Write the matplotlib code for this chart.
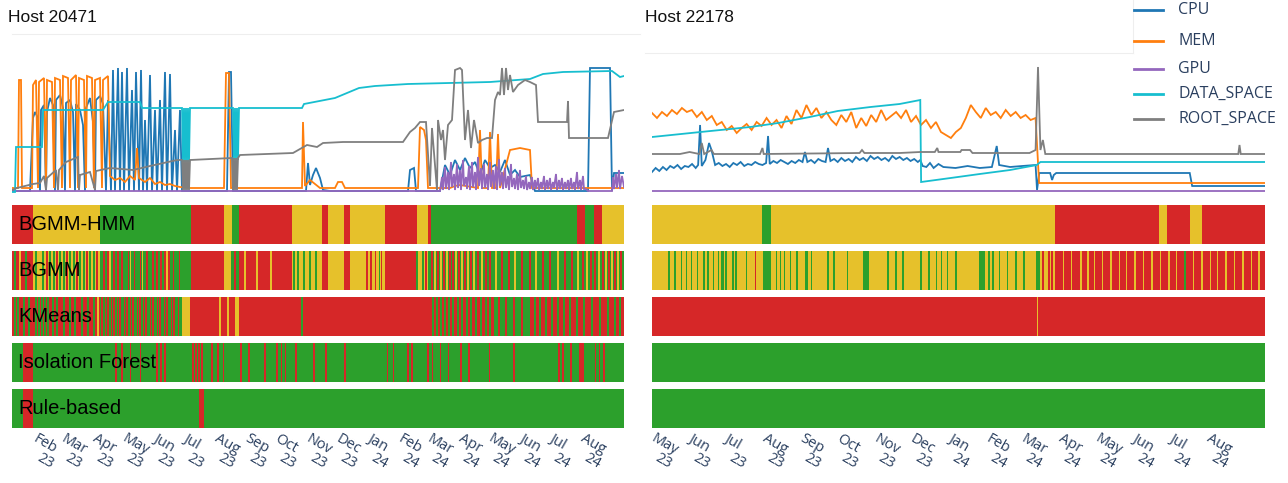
import numpy as np
import pandas as pd
import matplotlib
matplotlib.use("Agg")
import matplotlib.pyplot as plt
from matplotlib.lines import Line2D

# ---------------------------------------------------------------- data
# time is given as days since the first sample of each host
start_l = pd.Timestamp("2023-01-06")
span_l = 612
start_r = pd.Timestamp("2023-04-28")
span_r = 505
ticks_l = pd.date_range("2023-02-01", "2024-08-01", freq="MS")
ticks_r = pd.date_range("2023-05-01", "2024-08-01", freq="MS")

series_names = ["CPU", "MEM", "GPU", "DATA_SPACE", "ROOT_SPACE"]
models = ["BGMM-HMM", "BGMM", "KMeans", "Isolation Forest", "Rule-based"]

# ---- Host 20471 metrics (day, normalised value)
cpu_l = [(0, 1), (18, 1), (21, 74), (23, 80), (26, 74), (28, 1), (29, 82), (32, 87), (34, 1), (35, 80),
         (38, 94), (41, 87), (43, 1), (44, 92), (48, 97), (51, 84), (53, 1), (54, 89), (58, 92), (61, 80),
         (63, 1), (64, 88), (68, 82), (71, 67), (73, 1), (74, 84), (78, 94), (81, 70), (83, 1), (84, 92),
         (88, 96), (91, 88), (94, 1), (96, 92), (99, 1), (101, 122), (103, 1), (106, 124), (108, 1),
         (110, 120), (112, 1), (115, 124), (117, 1), (120, 102), (122, 1), (124, 120), (127, 1), (129, 122),
         (131, 1), (133, 72), (135, 1), (138, 117), (140, 1), (143, 82), (145, 1), (148, 92), (150, 1),
         (153, 120), (155, 1), (158, 118), (160, 1), (163, 62), (165, 1), (168, 82), (170, 1), (215, 1),
         (217, 120), (219, 120), (221, 1), (294, 1), (296, 29), (298, 7), (301, 17), (304, 24), (308, 14),
         (311, 2), (318, 1), (396, 1), (398, 22), (402, 24), (404, 1), (428, 1), (433, 27), (438, 17),
         (443, 32), (448, 22), (453, 34), (458, 24), (463, 30), (468, 17), (473, 32), (478, 24), (483, 27),
         (488, 20), (493, 32), (498, 17), (503, 22), (508, 15), (518, 17), (523, 1), (576, 1), (578, 124),
         (598, 124), (600, 1), (602, 19), (612, 19)]
mem_l = [(0, 4), (6, 4), (7, 112), (9, 112), (10, 4), (20, 4), (21, 107), (24, 112), (26, 4), (27, 110),
         (32, 114), (34, 4), (35, 112), (40, 110), (42, 4), (43, 114), (48, 112), (50, 4), (51, 116),
         (56, 114), (58, 4), (59, 112), (64, 117), (66, 4), (67, 114), (72, 112), (74, 4), (75, 116),
         (80, 114), (82, 4), (83, 112), (88, 114), (90, 4), (91, 112), (96, 116), (98, 16), (103, 12),
         (108, 14), (113, 10), (118, 16), (123, 12), (125, 44), (127, 14), (133, 10), (138, 14), (143, 8),
         (148, 10), (153, 7), (158, 8), (163, 6), (168, 5), (178, 4), (212, 4), (214, 119), (217, 119),
         (219, 4), (290, 4), (291, 70), (293, 6), (298, 12), (303, 8), (308, 4), (323, 4), (326, 10),
         (330, 10), (333, 4), (406, 4), (408, 65), (412, 62), (414, 52), (416, 4), (438, 4), (443, 6),
         (448, 7), (466, 4), (468, 62), (470, 4), (476, 4), (478, 60), (480, 4), (484, 4), (486, 58),
         (488, 4), (498, 42), (508, 44), (518, 42), (520, 4), (548, 4), (612, 4)]
gpu_l = [(0, 1), (428, 1), (430, 15), (431, 2), (433, 25), (434, 3), (436, 20), (437, 2), (439, 30),
         (440, 5), (442, 18), (443, 2), (445, 28), (446, 4), (448, 22), (449, 2), (451, 32), (452, 6),
         (454, 15), (455, 3), (457, 26), (458, 2), (460, 30), (461, 5), (463, 20), (464, 2), (466, 35),
         (467, 6), (469, 24), (470, 3), (472, 28), (473, 4), (475, 18), (476, 2), (478, 30), (479, 5),
         (481, 22), (482, 3), (484, 26), (485, 2), (487, 33), (488, 6), (490, 20), (491, 3), (493, 24),
         (494, 4), (496, 16), (497, 2), (499, 28), (500, 5), (502, 14), (503, 3), (505, 18), (506, 2),
         (508, 22), (509, 4), (511, 12), (512, 3), (514, 16), (515, 2), (517, 10), (518, 3), (520, 15),
         (521, 2), (523, 12), (524, 3), (526, 14), (527, 2), (529, 10), (530, 3), (532, 16), (533, 2),
         (535, 12), (536, 3), (538, 14), (539, 2), (541, 10), (542, 4), (544, 18), (545, 2), (547, 12),
         (548, 3), (550, 14), (551, 2), (553, 10), (554, 3), (556, 12), (557, 2), (559, 14), (560, 3),
         (562, 10), (563, 2), (565, 20), (566, 3), (568, 12), (569, 2), (571, 16), (572, 3), (574, 3),
         (576, 1), (600, 1), (601, 15), (602, 3), (604, 18), (605, 4), (607, 22), (608, 3), (610, 16),
         (612, 5)]
data_l = [(0, 0), (3, 0), (4, 45), (30, 45), (31, 82), (91, 82), (96, 90), (128, 90), (130, 84), (170, 84),
          (171, 30), (172, 84), (173, 30), (174, 84), (175, 30), (176, 84), (177, 30), (178, 84), (221, 84),
          (222, 32), (223, 84), (224, 32), (225, 84), (226, 32), (227, 84), (290, 84), (292, 88), (323, 94),
          (347, 104), (363, 106), (396, 108), (478, 110), (518, 113), (531, 118), (551, 120), (600, 121),
          (608, 115), (612, 116)]
root_l = [(0, 2), (5, 4), (21, 8), (28, 9), (32, 16), (34, 2), (35, 14), (44, 22), (46, 2), (47, 22),
          (54, 30), (66, 35), (67, 2), (68, 17), (78, 20), (83, 2), (84, 21), (98, 24), (121, 22), (138, 26),
          (165, 32), (170, 32), (171, 2), (172, 32), (173, 2), (174, 32), (175, 2), (176, 32), (177, 2),
          (178, 32), (220, 34), (221, 2), (222, 34), (223, 2), (224, 34), (225, 2), (226, 34), (228, 37),
          (281, 39), (295, 47), (305, 45), (311, 49), (331, 50), (391, 50), (398, 60), (403, 64), (408, 70),
          (414, 70), (418, 6), (420, 64), (425, 2), (426, 72), (429, 52), (431, 62), (433, 32), (436, 67),
          (440, 72), (443, 122), (448, 124), (450, 122), (453, 52), (456, 82), (459, 44), (462, 72),
          (466, 49), (470, 52), (475, 54), (480, 54), (483, 92), (486, 100), (488, 97), (490, 124),
          (492, 97), (494, 124), (496, 102), (498, 117), (501, 100), (506, 107), (513, 112), (518, 110),
          (524, 107), (526, 70), (555, 70), (556, 91), (557, 54), (596, 54), (602, 80), (612, 82)]

# ---- Host 22178 metrics
cpu_r = [(0, 20), (3, 24), (6, 21), (9, 25), (12, 22), (15, 26), (18, 24), (21, 27), (24, 23), (27, 26),
         (30, 25), (33, 28), (36, 24), (38, 27), (39.6, 67), (41, 26), (44, 32), (47, 49), (49, 42), (52, 27),
         (55, 29), (58, 26), (61, 28), (64, 25), (67, 29), (70, 27), (73, 30), (76, 26), (79, 28), (82, 27),
         (85, 30), (88, 28), (91, 27), (94, 29), (95.6, 56), (97, 28), (100, 31), (103, 29), (106, 32),
         (109, 30), (112, 28), (115, 31), (118, 29), (121, 32), (124, 30), (126, 40), (128, 30), (131, 32),
         (134, 29), (137, 33), (140, 31), (143, 30), (145, 44), (147, 31), (150, 33), (153, 30), (156, 34),
         (159, 31), (162, 33), (165, 30), (168, 35), (171, 32), (174, 34), (177, 31), (180, 36), (183, 33),
         (186, 35), (189, 32), (192, 34), (195, 31), (198, 36), (201, 33), (204, 35), (207, 32), (210, 34),
         (213, 31), (216, 33), (219, 30), (221, 32), (223, 26), (226, 25), (229, 29), (232, 24), (236, 28),
         (240, 25), (250, 24), (260, 26), (270, 24), (280, 25), (284, 46), (286, 27), (295, 25), (305, 26),
         (316, 27), (317.2, 2), (319, 19), (328, 19), (329.6, 12), (331, 17), (333, 19), (443, 19), (445, 6),
         (505, 6)]
# memory sampled about every four days until the drop
mem_r_vals = [79, 74, 80, 76, 82, 78, 84, 80, 82, 75, 80, 72, 76, 67, 70, 62, 66, 59, 64, 68,
              62, 70, 66, 74, 67, 72, 64, 76, 68, 82, 74, 87, 77, 84, 74, 80, 72, 67, 77, 70,
              80, 64, 74, 66, 77, 70, 82, 72, 76, 80, 74, 82, 70, 76, 67, 72, 64, 70, 60, 57,
              54, 60, 64, 74, 87, 80, 74, 84, 77, 80, 74, 82, 76, 80, 74, 77, 72, 74]
mem_r_tail = [(318.9, 9), (505, 9)]
gpu_r = [(0, 1), (505, 1)]
data_r = [(0, 55), (40, 60), (81, 65), (104, 69), (130, 75), (153, 81), (180, 85), (204, 88), (221, 92),
          (221.7, 10), (246, 14), (270, 18), (295, 22), (317, 27), (320, 30), (505, 30)]
root_r = [(0, 38), (23, 38), (31, 40), (39, 38), (41, 49), (43, 38), (49, 42), (51, 38), (89, 38), (91, 44),
          (92, 38), (171, 39), (173, 42), (175, 39), (204, 39), (221, 40), (233, 40), (235, 44), (236, 40),
          (254, 40), (255, 42), (262, 42), (264, 39), (311, 39), (316, 42), (318, 125), (320, 42), (322, 52),
          (324, 38), (483, 38), (484, 47), (485, 38), (505, 38)]

# ---- detected states: runs (start day, state) and thin stripes (day, state[, width])
hmm_l = [(0, 'r'), (20.6, 'y'), (88, 'g'), (179, 'r'), (212, 'y'), (220, 'g'), (227, 'r'), (280, 'y'),
         (310, 'r'), (316, 'y'), (332, 'r'), (338, 'y'), (373, 'r'), (405, 'y'), (416, 'r'), (419, 'g'),
         (565, 'r'), (573, 'g'), (582, 'r'), (590, 'y')]
hmm_l_s = []
bgmm_l = [(0, 'r'), (20.6, 'y'), (88, 'g'), (179, 'r'), (212, 'y'), (219, 'g'), (227, 'r'), (280, 'y'),
          (310, 'r'), (316, 'y'), (332, 'r'), (338, 'y'), (373, 'r'), (404, 'y'), (416, 'g')]
bgmm_l_s = [(3, 'g'), (8, 'y'), (14, 'g'), (24, 'g'),
            (31, 'g', 2), (35, 'r'), (38, 'g', 2), (42, 'g', 1.5), (45, 'r'), (48, 'g', 2), (52, 'g'),
            (55, 'r'), (58, 'g', 2), (62, 'g', 1.5), (65, 'r'), (68, 'g', 2), (72, 'g'), (75, 'r'),
            (78, 'g', 2), (82, 'g', 1.5), (85, 'r'),
            (92, 'r'), (96, 'r'), (98, 'y'), (102, 'r'), (106, 'r'), (110, 'r'), (116.5, 'r'), (118.6, 'y'),
            (122.6, 'r'), (128.8, 'r'), (130.8, 'y'), (135, 'r'), (141, 'r'), (145, 'r'), (149, 'r'),
            (153, 'r'), (155, 'y'), (157, 'r'), (161.4, 'r'), (167.5, 'r'),
            (222.6, 'r', 2), (233, 'y'), (245, 'y'), (259, 'y'),
            (282, 'g'), (286, 'g'), (292, 'g'), (298, 'g'), (304, 'g'),
            (355, 'r'), (359, 'r'), (363.4, 'r'), (367.4, 'g'), (369.5, 'r'),
            (405, 'g'), (408, 'y'), (411, 'g'), (414, 'r'),
            (420, 'r'), (423, 'y'), (426, 'r'), (429, 'y'), (432, 'r'), (435, 'y'), (438, 'r'), (441, 'r'),
            (444, 'y'), (447, 'r'), (450, 'y'), (453, 'r'), (456, 'y'), (459, 'r'), (462, 'y'), (466, 'r'),
            (470, 'y'), (474, 'r'), (478, 'r'), (484, 'y'), (490, 'r'), (497, 'r'), (503, 'y'), (510, 'r'),
            (518, 'r'), (524, 'y'), (531, 'r'), (538, 'r'), (546, 'y'), (553, 'r'), (560, 'r'), (566, 'y'),
            (571, 'r'), (575, 'y'), (579, 'r'), (583, 'r', 2), (587, 'y'), (591, 'r'), (594, 'y'),
            (597, 'r'), (600, 'y'), (603, 'r'), (606, 'y'), (609, 'r')]
km_l = [(0, 'r'), (88, 'g'), (170, 'y'), (178, 'r'), (223, 'y'), (227, 'r'), (482, 'g'), (518, 'r')]
km_l_s = [(3, 'g'), (6, 'g'), (12, 'g'), (17, 'g'), (24, 'g'), (27, 'g'), (30, 'g'), (33, 'g'), (36, 'g'),
          (41, 'g'), (45, 'g'), (52, 'g'), (58, 'g'), (63, 'g'), (70, 'g'), (76, 'g'), (82, 'g'), (86, 'y', 1.5),
          (90, 'r', 1.5), (93, 'r', 1), (95.5, 'r', 2), (99, 'r', 1), (102, 'r', 1.5), (105.5, 'r', 1),
          (108, 'r', 2), (112, 'r', 1), (115, 'r', 1.5), (118, 'r', 1), (121, 'r', 2), (125, 'r', 1),
          (128, 'r', 1.5), (131.5, 'r', 1), (134, 'r', 2), (138, 'r', 1), (141, 'r', 1.5), (145, 'r', 1),
          (148, 'r', 2), (152, 'r', 1), (155, 'r', 1.5), (159, 'r', 1), (162, 'r', 2), (166, 'r', 1),
          (208, 'y'), (216, 'y'), (290, 'g'),
          (421, 'g'), (425, 'g'), (429, 'g'), (433, 'g', 1.5), (437, 'g'), (441, 'g'), (446, 'g', 1.5),
          (450, 'g'), (455, 'g'), (459, 'g', 1.5), (464, 'g'), (469, 'g'), (474, 'g', 1.5), (478, 'g'),
          (487, 'r'), (494, 'r'), (502, 'r', 1.5), (510, 'r'),
          (523, 'g'), (528, 'g', 1.5), (534, 'g'), (540, 'g'), (546, 'g', 1.5), (552, 'g'), (558, 'g'),
          (565, 'g', 1.5), (572, 'g'), (580, 'g'), (588, 'g', 1.5), (596, 'g'), (603, 'g'), (608, 'g')]
if_l = [(0, 'g'), (10.5, 'r'), (20.6, 'g'), (567, 'r'), (572, 'g')]
if_l_s = [(104, 'r'), (110, 'r'), (118.6, 'r'), (128.8, 'r'), (145, 'r'), (149, 'r'), (153, 'r'),
          (181, 'r'), (184, 'r'), (187, 'r'), (190, 'r'), (200, 'r'), (206, 'r'), (211.6, 'r'), (229, 'r'),
          (237, 'r'), (253, 'r'), (265, 'r'), (269.5, 'r'), (273.6, 'r'), (284, 'r'), (302, 'r'), (314, 'r'),
          (333, 'r'), (375.6, 'r'), (381.7, 'r'), (396, 'r'), (400, 'r'), (416, 'r'), (420.5, 'r'),
          (428.6, 'r'), (436.8, 'r'), (449, 'r'), (457, 'r'), (477.6, 'r'), (502, 'r'), (547, 'r'),
          (551, 'r'), (559, 'r'), (583.7, 'r'), (587.8, 'r'), (592, 'r')]
rb_l = [(0, 'g'), (10.5, 'r'), (20.6, 'g'), (186.7, 'r'), (192, 'g')]
rb_l_s = []

hmm_r = [(0, 'y'), (90.6, 'g'), (98, 'y'), (332, 'r'), (417.8, 'y'), (424.4, 'r'), (443.3, 'y'), (453.2, 'r')]
hmm_r_s = []
bgmm_r = [(0, 'y'), (332, 'r')]
bgmm_r_s = [(13.9, 'g'), (19, 'g'), (24.1, 'g'), (28.2, 'g'), (32.6, 'g'), (37.7, 'g'), (42.8, 'g'),
            (46.2, 'g', 2), (50.7, 'g'), (54.8, 'g'), (58.2, 'g', 2), (60.9, 'g'), (66.7, 'g'), (69.1, 'g'),
            (77.9, 'g'), (85.3, 'r'), (94.9, 'g', 6.8), (102.4, 'g'), (105.8, 'g'), (109.2, 'g'),
            (114.3, 'g'), (119.4, 'g'), (127.5, 'g', 2.7), (131.3, 'g'), (145, 'g'), (150, 'g'),
            (160.9, 'g'), (176.5, 'g', 5), (194.3, 'g'), (201.1, 'g'), (206.9, 'g'), (221.5, 'g'),
            (228.3, 'g'), (234.4, 'g'), (238.5, 'g'), (243.6, 'g'), (250.4, 'g'), (271.6, 'g', 5),
            (277.6, 'g'), (281, 'g'), (286.1, 'g'), (292.9, 'g'), (299.8, 'g'), (306.6, 'g'),
            (317.8, 'g', 3.4), (322, 'r'), (324.5, 'y'), (327, 'r'), (329.5, 'r'),
            (339, 'y'), (345.7, 'y'), (353.5, 'y'), (359.3, 'y', 1.5), (364.4, 'y'), (371, 'y'), (378, 'y'),
            (385, 'y'), (391, 'y'), (398, 'y'), (405, 'y'), (412, 'y'), (419, 'y'), (426, 'y'), (432, 'y'),
            (439, 'g'), (446, 'y'), (453, 'y'), (460, 'y'), (466, 'y'), (473, 'y'), (480, 'y'), (487, 'y'),
            (494, 'y'), (500, 'y')]
km_r = [(0, 'r')]
km_r_s = [(317.8, 'y', 1)]
if_r = [(0, 'g')]
if_r_s = []
rb_r = [(0, 'g')]
rb_r_s = []

# ---------------------------------------------------------------- style
W, H = 1288, 483
line_colors = {"CPU": "#1f77b4", "MEM": "#ff7f0e", "GPU": "#9467bd",
               "DATA_SPACE": "#17becf", "ROOT_SPACE": "#7f7f7f"}
state_colors = {"g": "#2ca02c", "y": "#e6c12b", "r": "#d62728"}
tick_color = "#2a3f5f"


def rect(left, top, width, height):
    return [left / W, 1 - (top + height) / H, width / W, height / H]


def to_dates(start, days):
    return start + pd.to_timedelta(np.asarray(days, dtype=float), unit="D")


def day(start, d):
    return start + pd.Timedelta(days=float(d))


def draw_lines(ax, start, span, series):
    for name, pts in zip(series_names, series):
        d, v = np.array(pts, dtype=float).T
        ax.plot(to_dates(start, d), v, color=line_colors[name], lw=1.3, solid_joinstyle="miter")
    ax.set_xlim(start, day(start, span))
    ax.set_ylim(-3, 157)
    ax.axis("off")


def draw_band(ax, start, span, runs, stripes):
    ends = [r[0] for r in runs[1:]] + [span]
    for (s, st), e in zip(runs, ends):
        ax.axvspan(day(start, s), day(start, e), color=state_colors[st], lw=0)
    for stripe in stripes:
        d, st = stripe[0], stripe[1]
        w = stripe[2] if len(stripe) > 2 else 1.2
        ax.axvspan(day(start, d - w / 2), day(start, d + w / 2), color=state_colors[st], lw=0)
    ax.set_xlim(start, day(start, span))
    ax.set_ylim(0, 1)
    ax.set_yticks([])
    ax.set_xticks([])
    for sp in ax.spines.values():
        sp.set_visible(False)


def date_labels(ax, ticks):
    # month over year, both slanted; the year line sits a little to the right
    for t in ticks:
        for txt, off in ((t.strftime("%b"), (0, -3)), (t.strftime("%y"), (4, -22))):
            ax.annotate(txt, xy=(t, 0), xycoords=("data", "axes fraction"),
                        xytext=off, textcoords="offset pixels", rotation=-30,
                        rotation_mode="anchor", ha="left", va="top", fontsize=10.5,
                        family="Open Sans", color=tick_color, annotation_clip=False)


fig = plt.figure(figsize=(W / 100, H / 100), dpi=100)

mem_r = [(d, v) for d, v in zip(np.linspace(0, 316, len(mem_r_vals)), mem_r_vals)] + mem_r_tail

panels = [
    ("Host 20471", 8, 12, 612, start_l, span_l, ticks_l,
     [cpu_l, mem_l, gpu_l, data_l, root_l],
     [(hmm_l, hmm_l_s), (bgmm_l, bgmm_l_s), (km_l, km_l_s), (if_l, if_l_s), (rb_l, rb_l_s)], True),
    ("Host 22178", 645, 652, 613, start_r, span_r, ticks_r,
     [cpu_r, mem_r, gpu_r, data_r, root_r],
     [(hmm_r, hmm_r_s), (bgmm_r, bgmm_r_s), (km_r, km_r_s), (if_r, if_r_s), (rb_r, rb_r_s)], False),
]

band_tops = [205, 251, 297, 343, 389]
band_h = 39

for title, tx, x0, w, start, span, ticks, series, bands, labelled in panels:
    fig.text(tx / W, 1 - 18 / H, title, fontsize=12.5, family="Liberation Sans",
             va="center", ha="left", color="#111111")
    ax = fig.add_axes(rect(x0, 35, w, 160))
    draw_lines(ax, start, span, series)
    for i, ((runs, stripes), top) in enumerate(zip(bands, band_tops)):
        bax = fig.add_axes(rect(x0, top, w, band_h))
        draw_band(bax, start, span, runs, stripes)
        if labelled:
            bax.text(6 / w, 0.5, models[i], transform=bax.transAxes, fontsize=14.5,
                     family="Liberation Sans", va="center", ha="left", color="black")
        if i == len(bands) - 1:
            date_labels(bax, ticks)

# faint plot-area borders
fig.add_artist(Line2D([12 / W, 640 / W], [1 - 34 / H] * 2, color="#eeeeee", lw=0.8))
fig.add_artist(Line2D([645 / W, 1133 / W], [1 - 53 / H] * 2, color="#eeeeee", lw=0.8))
fig.add_artist(Line2D([1133 / W] * 2, [1, 1 - 53 / H], color="#eeeeee", lw=0.8))

# legend
for name, ly in zip(series_names, [10, 41, 69, 94, 119]):
    fig.add_artist(Line2D([1134 / W, 1163 / W], [1 - ly / H] * 2, color=line_colors[name], lw=2))
    fig.text(1178 / W, 1 - ly / H, name, fontsize=11.5, family="Open Sans",
             va="center", ha="left", color=tick_color)

fig.savefig("out.png", dpi=100)
